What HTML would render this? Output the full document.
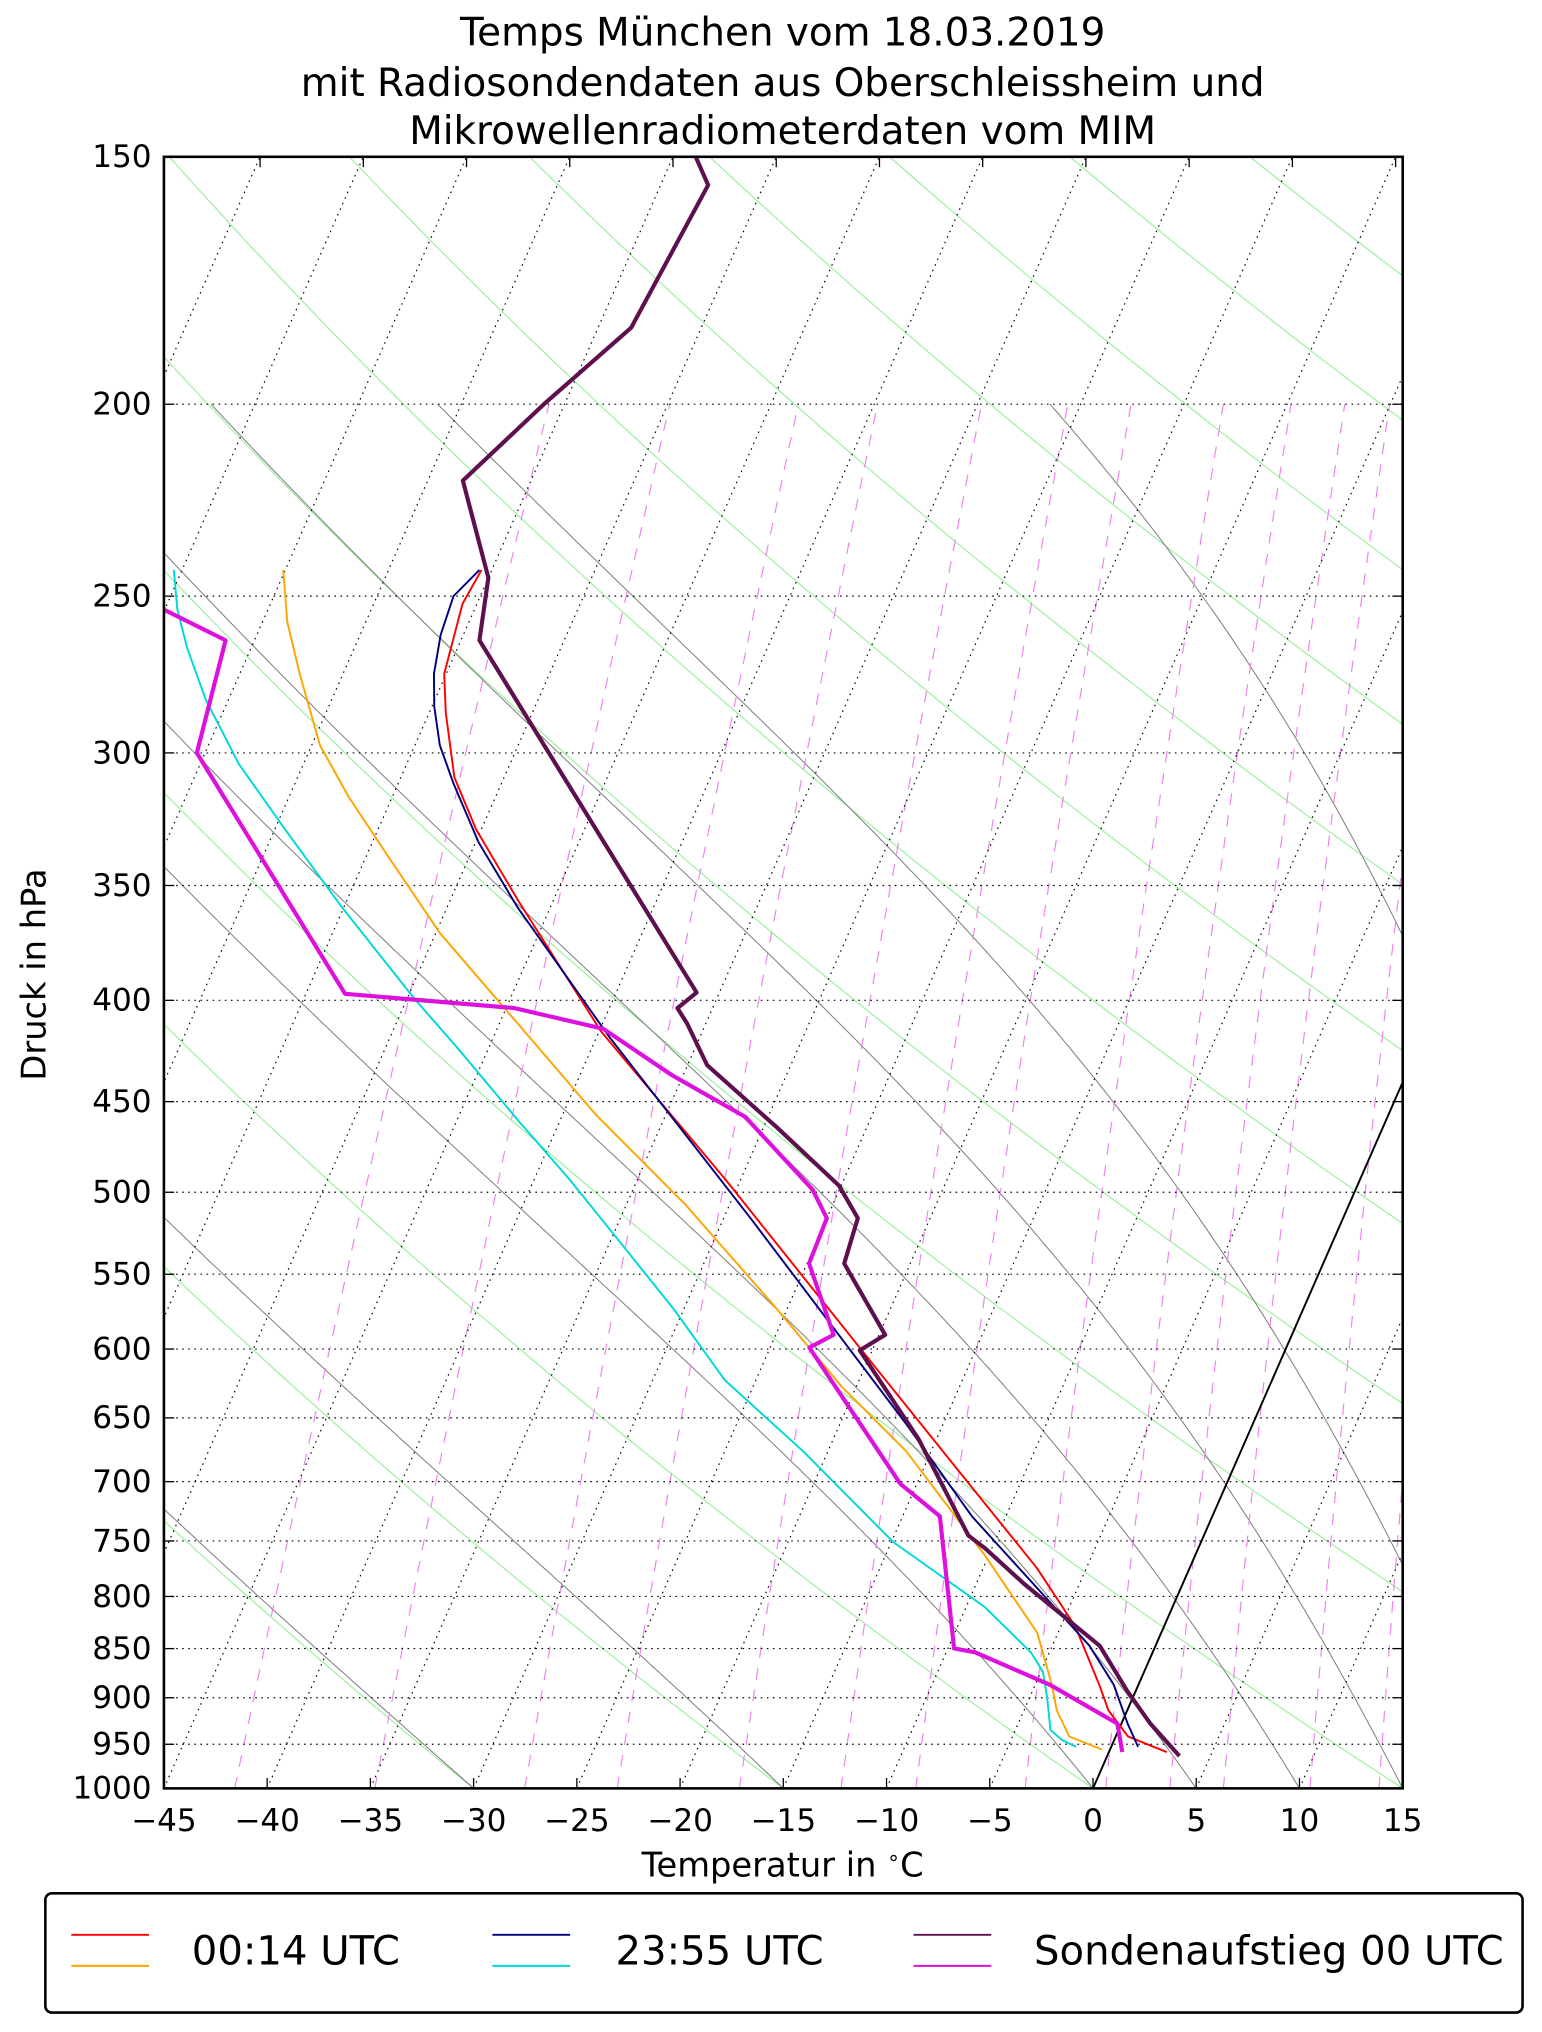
<!DOCTYPE html>
<html><head><meta charset="utf-8"><style>
html,body{margin:0;padding:0;background:#fff;}
svg{display:block;font-family:"DejaVu Sans","Liberation Sans",sans-serif;}
</style></head><body>
<svg id="chart" width="1542" height="2032" viewBox="0 0 1190 1568" preserveAspectRatio="none" xmlns="http://www.w3.org/2000/svg">
<defs><clipPath id="plotclip"><rect x="126.5" y="121" width="956" height="1259"/></clipPath></defs>
<rect x="0" y="0" width="1190" height="1568" fill="#fff"/>
<g font-size="30" text-anchor="middle" fill="#000">
<text x="604" y="35">Temps München vom 18.03.2019</text>
<text x="604" y="74">mit Radiosondendaten aus Oberschleissheim und</text>
<text x="604" y="111">Mikrowellenradiometerdaten vom MIM</text>
</g>
<g id="bg" clip-path="url(#plotclip)"></g>
<g id="series" clip-path="url(#plotclip)"></g>
<rect x="126.5" y="121" width="956" height="1259" fill="none" stroke="#000" stroke-width="2"/>
<g id="axes" font-size="24" fill="#000"></g>
<text x="604" y="1448" font-size="26" text-anchor="middle">Temperatur in <tspan baseline-shift="super" font-size="16">∘</tspan>C</text>
<text transform="translate(35,752) rotate(-90)" font-size="26" text-anchor="middle">Druck in hPa</text>
<g>
<rect x="35" y="1461" width="1140" height="92" rx="5" fill="#fff" stroke="#000" stroke-width="2"/>
<g>
<line x1="55" y1="1493" x2="115" y2="1493" stroke="#ff0000" stroke-width="1.5"/>
<line x1="55" y1="1517" x2="115" y2="1517" stroke="#ffa500" stroke-width="1.5"/>
<text x="148" y="1516" font-size="31">00:14 UTC</text></g>
<g>
<line x1="380" y1="1493" x2="440" y2="1493" stroke="#000080" stroke-width="1.5"/>
<line x1="380" y1="1517" x2="440" y2="1517" stroke="#00d8d8" stroke-width="1.5"/>
<text x="475" y="1516" font-size="31">23:55 UTC</text></g>
<g>
<line x1="705" y1="1493" x2="765" y2="1493" stroke="#5e0f4e" stroke-width="1.5"/>
<line x1="705" y1="1517" x2="765" y2="1517" stroke="#dd11dd" stroke-width="1.5"/>
<text x="798" y="1516" font-size="31">Sondenaufstieg 00 UTC</text></g>
</g>
</svg>
<script>
// ---- data ----
const yTicks = [150,200,250,300,350,400,450,500,550,600,650,700,750,800,850,900,950,1000];
const xTicks = [-45,-40,-35,-30,-25,-20,-15,-10,-5,0,5,10,15];
const sondeP = [150,155,183,200,218.6,244.7,263.2,396.4,403.6,411,431.3,463.7,496.2,515.3,543.2,590.1,600.9,665.7,745.4,756.7,788.1,847.2,893.1,927.4,963];
const sondeT = [-53.9,-52.7,-53.4,-56.0,-58.3,-55.0,-54.1,-36.1,-36.7,-35.9,-34.05,-29.35,-25.1,-23.5,-23.2,-19.7,-20.6,-15.9,-11.4,-10.3,-7.7,-2.7,-0.4,1.4,3.5];
const sondeTdP = [253.8,263.2,300,397,403.6,413.5,436.6,458.1,498.5,515.3,543.2,590.1,599,701.8,728.7,849.8,853.7,886.4,927.4,958.7];
const sondeTd = [-70.1,-66.4,-65.4,-53.1,-44.6,-39.85,-35.5,-31.1,-26.3,-25.0,-24.9,-22.2,-23.1,-15.8,-13.2,-9.7,-8.6,-4.3,-0.2,0.65];
const m14P = [242.5,252.2,273.6,286.3,308.7,327.9,356.2,414.8,492.5,617.4,691.3,774,828.3,886.4,913.6,941.5,958.7];
const m14T = [-55.5,-55.7,-55.1,-54.2,-52.4,-50.25,-46.7,-39.9,-30.75,-19.1,-13.25,-7.4,-4.3,-1.9,-0.9,0.6,2.8];
const m14TdP = [242.5,257.6,273.6,297.3,315.8,337.9,369.9,411,456.8,507.6,572.6,626.8,675.8,762.4,834.6,886.4,913.6,941.5,955.8];
const m14Td = [-65.1,-63.8,-62.1,-59.6,-57.1,-54.0,-49.8,-44.1,-38.4,-32.1,-25.5,-20.7,-16.2,-10.2,-6.0,-4.2,-3.4,-2.25,-0.4];
const m55P = [242.5,250,261.5,273.6,284.1,297.3,311,332.9,358.9,417.3,515.3,655.8,728.7,791.7,847.2,886.4,927.4,952.9];
const m55T = [-55.6,-56.3,-56.1,-55.6,-54.9,-53.8,-52.3,-49.85,-46.6,-39.4,-28.7,-16.7,-11.65,-7.0,-3.2,-1.2,0.3,1.3];
const m55TdP = [242.5,253.8,265.5,282,304.1,327.9,358.9,398.8,423.6,460.2,492.5,531,572.6,622.1,675.8,751,809.8,853.7,873.2,899.9,934.4,945.7,952.9];
const m55Td = [-70.4,-69.4,-68.1,-66.1,-63.1,-59.5,-55.1,-49.7,-46.4,-42.0,-38.3,-34.4,-30.5,-26.5,-21.2,-14.9,-9.1,-5.9,-4.9,-4.15,-3.3,-2.5,-1.7];
const dryTheta = [-45,-30,-15,0,15,30,45,60,75,90,105,120,135,150,165,180,195];
const moistT0 = [-60,-45,-30,-15,0,5,10,15,20,30,37,50];
const mixW = [0.1,0.2,0.4,0.6,1,1.5,2,3,4,5,6,8,10,12,16,20];

// ---- axes ----
const L=126.5, R=1082.5, TOP=121, BOT=1380;
const pxPerC=(R-L)/60, skew=0.4386, kP=(BOT-TOP)/Math.log(1000/150);
function yP(p){return BOT-kP*Math.log(1000/p);}
function xT(t,p){return L+(t+45)*pxPerC+skew*(BOT-yP(p));}
const NS="http://www.w3.org/2000/svg";
function mk(tag,attrs,parent){const e=document.createElementNS(NS,tag);for(const k in attrs)e.setAttribute(k,attrs[k]);parent.appendChild(e);return e;}
function pathFrom(ps,ts){return ps.map((p,i)=>(i?'L':'M')+xT(ts[i],p).toFixed(1)+' '+yP(p).toFixed(1)).join(' ');}
const bg=document.getElementById('bg'), ser=document.getElementById('series'), ax=document.getElementById('axes');
const pr=[];for(let p=1000;p>=148;p-=5)pr.push(p);

dryTheta.forEach(th=>{const ts=pr.map(p=>(th+273.15)*Math.pow(p/1000,0.2857)-273.15);
 const e=mk('path',{d:pathFrom(pr,ts),fill:'none',stroke:'#90ee90','stroke-width':0.8},bg);
 
 });
function es(tc){return 6.112*Math.exp(17.67*tc/(tc+243.5));}
moistT0.forEach(t0=>{let T=t0+273.15;const ps=[],ts=[];
 for(let p=1000;p>=200;p-=2){ps.push(p);ts.push(T-273.15);
  const e=es(T-273.15);const rs=0.622*e/Math.max(p-e,1);
  const dTdp=(287*T+2.5e6*rs)/(p*(1004+2.5e6*2.5e6*rs*0.622/(287*T*T)));
  T-=dTdp*2;}
 const e=mk('path',{d:pathFrom(ps,ts),fill:'none',stroke:'#808080','stroke-width':0.8},bg);
 
 });
mixW.forEach(w=>{const ps=[],ts=[];for(let p=1000;p>=200;p-=10){const e=(w/1000)*p/(0.622+w/1000);const l=Math.log(e/6.112);ps.push(p);ts.push(243.5*l/(17.67-l));}
 const e=mk('path',{d:pathFrom(ps,ts),fill:'none',stroke:'#ee82ee','stroke-width':0.9,'stroke-dasharray':'9,8'},bg);
 
 });
yTicks.forEach(p=>{if(p===150||p===1000)return;
 const e=mk('line',{x1:L,x2:R,y1:yP(p),y2:yP(p),stroke:'#000','stroke-width':0.9,'stroke-dasharray':'1.2,3.5'},bg);
 
 });
for(let t=-80;t<=15;t+=5){if(t===0)continue;
 const e=mk('line',{x1:xT(t,1000),y1:BOT,x2:xT(t,150),y2:TOP,stroke:'#000','stroke-width':0.9,'stroke-dasharray':'1.2,3.5'},bg);
 
 }
{const e=mk('line',{x1:xT(0,1000),y1:yP(1000),x2:xT(0,150),y2:yP(150),stroke:'#000','stroke-width':1.5},bg);
 
 }

function series(ps,ts,col,w,name){const e=mk('path',{d:pathFrom(ps,ts),fill:'none',stroke:col,'stroke-width':w,'stroke-linejoin':'round'},ser);
 
 }
series(m14TdP,m14Td,'#ffa500',1.5,'dewpoint-0014');
series(m55TdP,m55Td,'#00d8d8',1.5,'dewpoint-2355');
series(m14P,m14T,'#ff0000',1.5,'temperature-0014');
series(m55P,m55T,'#000080',1.5,'temperature-2355');
series(sondeTdP,sondeTd,'#dd11dd',3.2,'dewpoint-sonde');
series(sondeP,sondeT,'#5e0f4e',3.2,'temperature-sonde');

yTicks.forEach(p=>{const y=yP(p);
 mk('line',{x1:L,x2:L+8,y1:y,y2:y,stroke:'#000','stroke-width':1},ax);
 mk('line',{x1:R-8,x2:R,y1:y,y2:y,stroke:'#000','stroke-width':1},ax);
 const t=mk('text',{x:117,y:y+8,'text-anchor':'end'},ax);t.textContent=p;
 
 });
xTicks.forEach(v=>{const x=L+(v+45)*pxPerC;
 mk('line',{x1:x,x2:x,y1:BOT,y2:BOT-8,stroke:'#000','stroke-width':1},ax);
 const t=mk('text',{x:x,y:1413,'text-anchor':'middle'},ax);t.textContent=(v<0?'\u2212'+(-v):String(v));
 
 });
for(let t=-80;t<=-20;t+=5){const x=xT(t,150);if(x<L||x>R)continue;
 mk('line',{x1:x,x2:x,y1:TOP,y2:TOP+8,stroke:'#000','stroke-width':1},ax);}
</script>
</body></html>
